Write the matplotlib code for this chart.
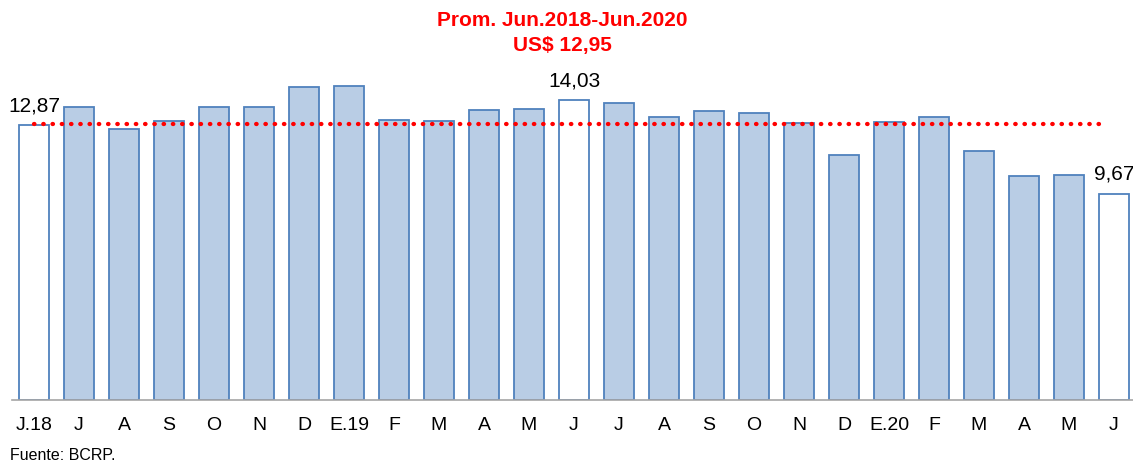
import matplotlib
matplotlib.use("Agg")
from matplotlib import pyplot as plt

plt.rcParams["font.family"] = ["Liberation Sans", "DejaVu Sans"]

# monthly values, Jun.2018 - Jun.2020 (US$)
labels = ["J.18", "J", "A", "S", "O", "N", "D", "E.19", "F", "M", "A", "M",
          "J", "J", "A", "S", "O", "N", "D", "E.20", "F", "M", "A", "M", "J"]
values = [12.87, 13.74, 12.68, 13.08, 13.71, 13.72, 14.66, 14.71, 13.13, 13.08,
          13.57, 13.62, 14.03, 13.90, 13.27, 13.52, 13.46, 12.97, 11.48, 13.01,
          13.24, 11.68, 10.49, 10.54, 9.67]
highlight = [0, 12, 24]  # white bars with value label
average = 12.95

fill_blue = "#B9CDE5"
edge_blue = "#4F81BD"

fig = plt.figure(figsize=(11.33, 4.61), dpi=100)
ax = fig.add_axes([11.5 / 1133, 61 / 461, 1 - 11.5 / 1133, 400 / 461])

x = list(range(len(values)))
colors = ["white" if i in highlight else fill_blue for i in x]
ax.bar(x, values, width=0.67, color=colors, edgecolor=edge_blue, linewidth=1.3, zorder=2)

ax.plot([0, 23.8], [average, average], color="red", linestyle=(0, (0.1, 2.05)),
        linewidth=3.1, dash_capstyle="round", zorder=3)

for i in highlight:
    ax.text(i, values[i] + 0.45, f"{values[i]:.2f}".replace(".", ","),
            ha="center", va="bottom", fontsize=15, color="black")

ax.set_xlim(-0.5, (1133 - 11.5) / 45 - 0.5)
ax.set_ylim(0, 400 / 21.35)
ax.set_xticks(x)
ax.set_xticklabels(labels, fontsize=14)
ax.tick_params(axis="x", length=0, pad=12)
ax.set_yticks([])
for s in ["top", "right", "left"]:
    ax.spines[s].set_visible(False)
ax.spines["bottom"].set_color("#A6A6A6")
ax.spines["bottom"].set_linewidth(1.2)

fig.text(562 / 1133, 1 - 32.5 / 461, "Prom. Jun.2018-Jun.2020\nUS$ 12,95", ha="center", va="center",
         fontsize=15, fontweight="bold", color="red", linespacing=1.4)
fig.text(10 / 1133, 1 - 455 / 461, "Fuente: BCRP.", ha="left", va="center", fontsize=11.5)

fig.savefig("out.png", dpi=100)
